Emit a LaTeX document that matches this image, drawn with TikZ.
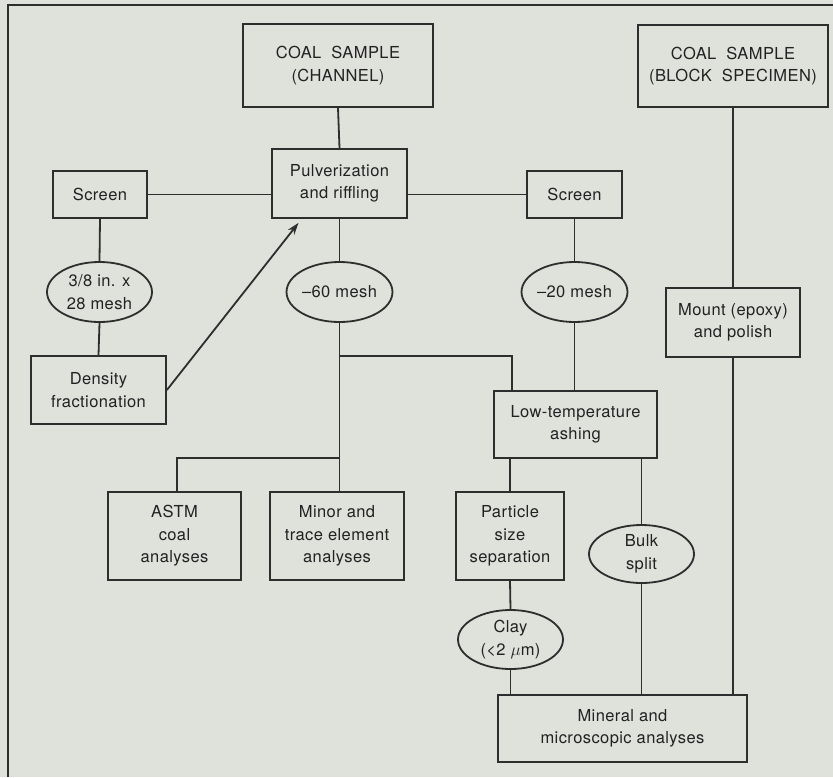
\documentclass[tikz,border=0pt]{standalone}
\usepackage{fontspec}
\setmainfont{TeX Gyre Heros}[LetterSpace=2.5]
\usetikzlibrary{arrows.meta,shapes.geometric}
\definecolor{bg}{HTML}{DFE1DB}
\definecolor{ink}{HTML}{2E2E2E}
\definecolor{txt}{HTML}{222222}
\begin{document}
\begin{tikzpicture}[x=1pt,y=-1pt,
  every node/.style={text=txt, font=\fontsize{16.5}{22.5}\selectfont, align=center, inner sep=0pt},
  boxn/.style={draw=ink, line width=1.8pt, rectangle},
  elln/.style={draw=ink, line width=1.8pt, ellipse, minimum width=105pt, minimum height=60pt},
  ln/.style={draw=ink, line width=1.8pt},
  arr/.style={ln, -{Stealth[length=12pt,width=8pt]}}]
\fill[bg] (0,0) rectangle (833,777);
\useasboundingbox (0,0) rectangle (833,777);
% frame (left and top only)
\coordinate (fbl) at (8,777);
\coordinate (ftl) at (8,5);
\coordinate (ftr) at (833,5);
\draw[ln] (fbl) -- (ftl) -- (ftr);
% nodes
\node[boxn, minimum width=190pt, minimum height=83pt] (chan) at (338,65.5) {COAL\ \ SAMPLE\\(CHANNEL)};
\node[boxn, minimum width=190pt, minimum height=82pt] (block) at (733,66) {COAL\ \ SAMPLE\\(BLOCK\ \ SPECIMEN)};
\node[boxn, minimum width=135pt, minimum height=69pt] (pulv) at (339.5,183.5) {Pulverization\\and riffling};
\node[boxn, minimum width=94pt, minimum height=47pt] (scrL) at (100,194.5) {Screen};
\node[boxn, minimum width=95pt, minimum height=47pt] (scrR) at (574.5,194.5) {Screen};
\node[elln] (e38) at (99.5,292) {3/8 in. x\\28 mesh};
\node[elln] (m60) at (339.5,292) {\textendash60 mesh};
\node[elln] (m20) at (574.5,292) {\textendash20 mesh};
\node[boxn, minimum width=134pt, minimum height=69pt] (mount) at (733,322.5) {Mount (epoxy)\\and polish};
\node[boxn, minimum width=135pt, minimum height=68pt] (dens) at (98.5,390) {Density\\fractionation};
\node[boxn, minimum width=163pt, minimum height=67pt] (lowt) at (575.5,424.5) {Low-temperature\\ashing};
\node[boxn, minimum width=133pt, minimum height=88pt] (astm) at (174.5,536) {ASTM\\coal\\analyses};
\node[boxn, minimum width=134pt, minimum height=88pt] (minor) at (337,536) {Minor and\\trace element\\analyses};
\node[boxn, minimum width=108pt, minimum height=88pt] (part) at (510,536) {Particle\\size\\separation};
\node[elln, minimum height=58pt] (bulk) at (641.5,554) {Bulk\\split};
\node[elln, minimum height=59pt] (clay) at (510.5,639.5) {Clay\\(<2 $\mu$m)};
\node[boxn, minimum width=249pt, minimum height=67pt] (mineral) at (622.5,728.5) {Mineral and\\microscopic analyses};
% helper coordinates
\coordinate (b1) at (339,356);
\coordinate (b1r) at (512,356);
\coordinate (b2) at (339,458);
\coordinate (b2l) at (177,458);
% connectors
\draw[ln] (chan.south) -- (pulv.north);
\draw[ln] (scrL.east) -- (scrL.east -| pulv.west);
\draw[ln] (scrR.west) -- (scrR.west -| pulv.east);
\draw[ln] (scrL.south) -- (e38.north);
\draw[ln] (e38.south) -- (dens.north);
\draw[arr] (dens.east) -- ([xshift=-41pt,yshift=-4pt]pulv.south);
\draw[ln] (pulv.south) -- (m60.north);
\draw[ln] (m60.south) -- (m60.south |- minor.north);
\draw[ln] (b1) -- (b1r) -- (b1r |- lowt.north);
\draw[ln] (b2) -- (b2l) -- (b2l |- astm.north);
\draw[ln] (scrR.south) -- (m20.north);
\draw[ln] (m20.south) -- (m20.south |- lowt.north);
\draw[ln] (part.north |- lowt.south) -- (part.north);
\draw[ln] (bulk.north |- lowt.south) -- (bulk.north);
\draw[ln] (part.south) -- (clay.north);
\draw[ln] (clay.south) -- (clay.south |- mineral.north);
\draw[ln] (bulk.south) -- (bulk.south |- mineral.north);
\draw[ln] (block.south) -- (mount.north);
\draw[ln] (mount.south) -- (mount.south |- mineral.north);
\end{tikzpicture}
\end{document}
